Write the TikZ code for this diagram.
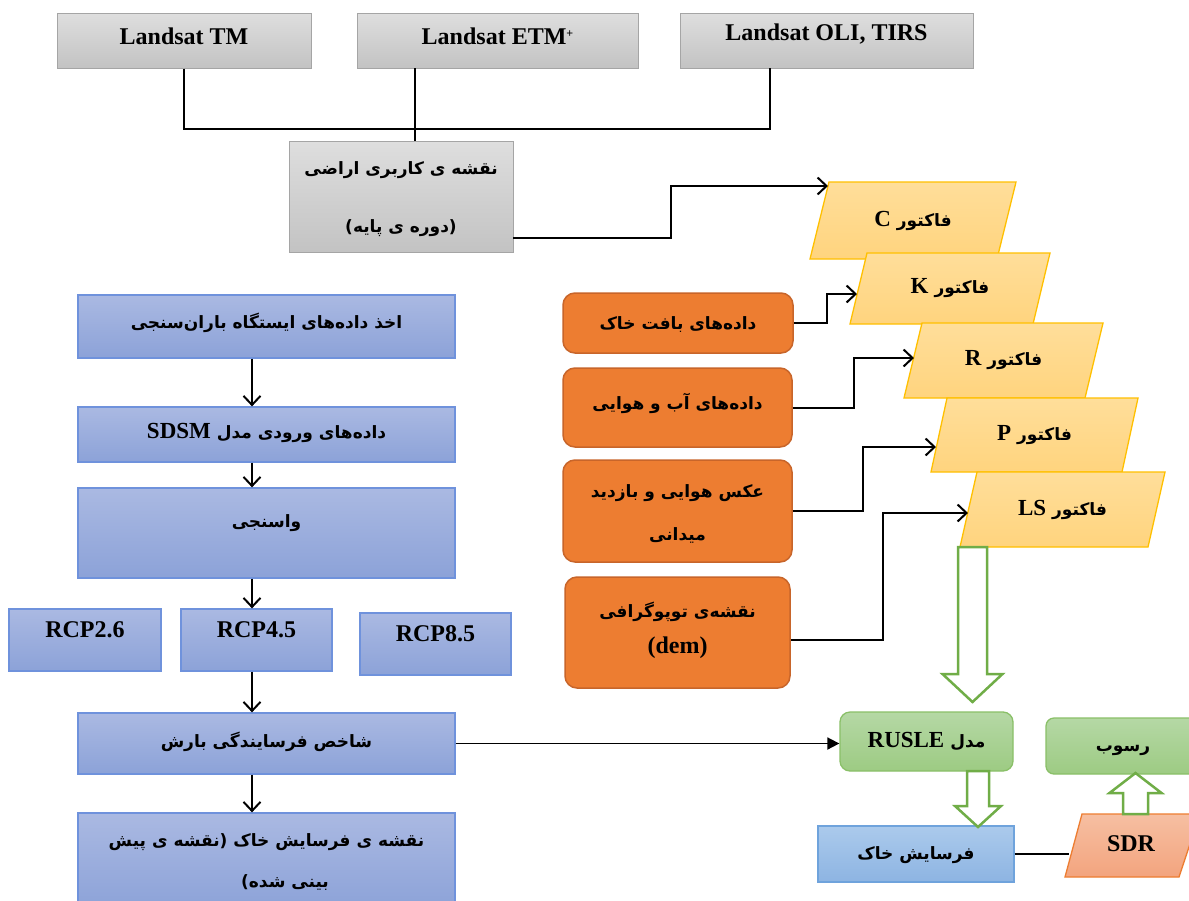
\documentclass[tikz,border=0pt]{standalone}
\usepackage{fontspec}
\setmainfont{Liberation Serif}
\newfontfamily\fa[Script=Arabic]{DejaVu Sans}
\TeXXeTstate=1
\usetikzlibrary{arrows.meta,calc}
\definecolor{gtop}{HTML}{DEDEDE}
\definecolor{gbot}{HTML}{C3C3C3}
\definecolor{gdraw}{HTML}{A5A5A5}
\definecolor{btop}{HTML}{AAB9E2}
\definecolor{bbot}{HTML}{8CA2D8}
\definecolor{bdraw}{HTML}{6F92DC}
\definecolor{ofill}{HTML}{ED7D31}
\definecolor{odraw}{HTML}{C8652A}
\definecolor{ytop}{HTML}{FFDE9A}
\definecolor{ybot}{HTML}{FFD47E}
\definecolor{ydraw}{HTML}{FFC000}
\definecolor{grtop}{HTML}{B5D8A5}
\definecolor{grbot}{HTML}{9DCB83}
\definecolor{grdraw}{HTML}{8AC068}
\definecolor{garr}{HTML}{70AD47}
\definecolor{ltop}{HTML}{ABCAEC}
\definecolor{lbot}{HTML}{8DB4E2}
\definecolor{ldraw}{HTML}{6FA3DC}
\definecolor{stop}{HTML}{F6BFA2}
\definecolor{sbot}{HTML}{F3A47E}
\definecolor{sdraw}{HTML}{ED7D31}
\newcommand\LatinB[1]{{\rmfamily\bfseries\fontsize{23}{26}\selectfont\beginL #1\endL}}
\newcommand\blockarrow[6]{%
  \draw[harr] ({#1-#5},#2) -- ({#1-#5},#3) -- ({#1-#6},#3) -- (#1,#4) -- ({#1+#6},#3) -- ({#1+#5},#3) -- ({#1+#5},#2) -- cycle;}
\newcommand\facpoly[7]{% name, top y, bottom y, TL x, BL x, width, letter
  \path[fac] (#4,#2) -- ({#4+#6},#2) -- ({#5+#6},#3) -- (#5,#3) -- cycle;
  \node[per] (#1) at ({(#4+#5+#6)/2},{(#2+#3)/2}) {\beginR فاکتور \LatinB{#7}\endR};}
\tikzset{
  conn/.style={line width=2pt,black},
  arr/.style={conn,-{Straight Barb[length=9pt,width=17pt]}},
  tarr/.style={line width=1.8pt,black,-{Triangle[length=12pt,width=12pt]}},
  thinline/.style={line width=1.2pt,black},
  lat/.style={font=\rmfamily\bfseries\fontsize{24}{27}\selectfont,inner sep=0pt},
  per/.style={font=\fa\bfseries\fontsize{17}{21}\selectfont,inner sep=0pt},
  gbox/.style={draw=gdraw,line width=1pt,top color=gtop,bottom color=gbot,inner sep=0pt},
  bbox/.style={draw=bdraw,line width=1.3pt,top color=btop,bottom color=bbot,inner sep=0pt},
  obox/.style={draw=odraw,line width=1.5pt,fill=ofill,rounded corners=12pt,inner sep=0pt},
  fac/.style={draw=ydraw,line width=1.3pt,top color=ytop,bottom color=ybot},
  grbox/.style={draw=grdraw,line width=1.3pt,top color=grtop,bottom color=grbot,rounded corners=10pt,inner sep=0pt},
  lbox/.style={draw=ldraw,line width=1.3pt,top color=ltop,bottom color=lbot,inner sep=0pt},
  sdrp/.style={draw=sdraw,line width=1.3pt,top color=stop,bottom color=sbot},
  harr/.style={draw=garr,line width=2.5pt,fill=white,line join=miter},
}
\begin{document}
\begin{tikzpicture}[x=1pt,y=-1pt]
\useasboundingbox[fill=white] (0,0) rectangle (1189,900);
% ---- top grey boxes
\node[gbox,minimum width=254pt,minimum height=55pt] (tm) at (184,40.5) {};
\node[gbox,minimum width=281pt,minimum height=55pt] (etm) at (497.5,40.5) {};
\node[gbox,minimum width=293pt,minimum height=55pt] (oli) at (826.5,40.5) {};
\node[lat] (tmt) at (184,36) {Landsat TM};
\node[lat] (etmt) at (497.5,36) {Landsat ETM\raisebox{7pt}{\fontsize{12}{12}\selectfont +}};
\node[lat] (olit) at (826.5,34) {Landsat OLI, TIRS};
\node[gbox,minimum width=224pt,minimum height=111pt] (lu) at (401,196.5) {};
\node[per] (lu1) at (401,170) {\beginR نقشه ی کاربری اراضی\endR};
\node[per] (lu2) at (401,228) {\beginR (دوره ی پایه)\endR};
\coordinate (etmo) at (415,68);
\coordinate (olio) at (770,68);
\coordinate (jn) at (0,129);
\draw[conn] (tm.south) -- (tm.south |- jn) -- (olio |- jn) -- (olio);
\draw[conn] (etmo) -- (etmo |- lu.north);
% ---- factor parallelograms
\facpoly{fC}{182}{259}{829}{810}{187}{C}
\facpoly{fK}{253}{324}{867}{850}{183}{K}
\facpoly{fR}{323}{398}{922}{904}{181}{R}
\facpoly{fP}{398}{472}{947}{931}{191}{P}
\facpoly{fLS}{472}{547}{977}{960}{188}{LS}
\coordinate (Cin) at (828,186);
\coordinate (Kin) at (857,294);
\coordinate (Rin) at (914,358);
\coordinate (Pin) at (936,447);
\coordinate (LSin) at (968,513);
\coordinate (luo) at (513,238);
\draw[arr] (luo) -- ++(158,0) |- (Cin);
% ---- orange boxes
\node[obox,minimum width=230pt,minimum height=60pt] (soil) at (678,323) {};
\node[per] (soilt) at (678,325) {\beginR داده‌های بافت خاک\endR};
\node[obox,minimum width=229pt,minimum height=79pt] (clim) at (677.5,407.5) {};
\node[per] (climt) at (677.5,403) {\beginR داده‌های آب و هوایی\endR};
\node[obox,minimum width=229pt,minimum height=102pt] (aer) at (677.5,511) {};
\node[per] (aer1) at (677.5,493) {\beginR عکس هوایی و بازدید\endR};
\node[per] (aer2) at (677.5,535) {\beginR میدانی\endR};
\node[obox,minimum width=225pt,minimum height=111pt] (topo) at (677.5,632.5) {};
\node[per] (topo1) at (677.5,612) {\beginR نقشه‌ی توپوگرافی\endR};
\node[lat] (topo2) at (677.5,648) {(dem)};
\draw[arr] (soil.east) -- ++(33,0) |- (Kin);
\draw[arr] (clim.east) -- ++(61,0) |- (Rin);
\draw[arr] (aer.east) -- ++(70,0) |- (Pin);
\draw[arr] ([yshift=-7.5pt]topo.east) -- ++(92,0) |- (LSin);
% ---- left column
\coordinate (ax) at (252,0);
\node[bbox,minimum width=377pt,minimum height=63pt] (b1) at (266.5,326.5) {};
\node[per] (b1t) at (266.5,323) {\beginR اخذ داده‌های ایستگاه باران‌سنجی\endR};
\node[bbox,minimum width=377pt,minimum height=55pt] (b2) at (266.5,434.5) {};
\node[per] (b2t) at (266.5,433) {\beginR داده‌های ورودی مدل \LatinB{SDSM}\endR};
\node[bbox,minimum width=377pt,minimum height=90pt] (b3) at (266.5,533) {};
\node[per] (b3t) at (266.5,523) {\beginR واسنجی\endR};
\node[bbox,minimum width=152pt,minimum height=62pt] (r26) at (85,640) {};
\node[lat] (r26t) at (85,630) {RCP2.6};
\node[bbox,minimum width=151pt,minimum height=62pt] (r45) at (256.5,640) {};
\node[lat] (r45t) at (256.5,630) {RCP4.5};
\node[bbox,minimum width=151pt,minimum height=62pt] (r85) at (435.5,644) {};
\node[lat] (r85t) at (435.5,634) {RCP8.5};
\node[bbox,minimum width=377pt,minimum height=61pt] (b4) at (266.5,743.5) {};
\node[per] (b4t) at (266.5,742) {\beginR شاخص فرسایندگی بارش\endR};
\node[bbox,minimum width=377pt,minimum height=97pt] (b5) at (266.5,861.5) {};
\node[per] (b5t1) at (266.5,842) {\beginR نقشه ی فرسایش خاک (نقشه ی پیش\endR};
\node[per] (b5t2) at (285,883) {\beginR بینی شده)\endR};
\draw[arr] (b1.south -| ax) -- (b2.north -| ax);
\draw[arr] (b2.south -| ax) -- (b3.north -| ax);
\draw[arr] (b3.south -| ax) -- (r45.north -| ax);
\draw[arr] (r45.south -| ax) -- (b4.north -| ax);
\draw[arr] (b4.south -| ax) -- (b5.north -| ax);
% ---- bottom right
\node[grbox,minimum width=173pt,minimum height=59pt] (rusle) at (926.5,741.5) {};
\node[per] (ruslet) at (926.5,741) {\beginR مدل \LatinB{RUSLE}\endR};
\node[grbox,rounded corners=8pt,minimum width=154pt,minimum height=56pt] (rusob) at (1123,746) {};
\node[per] (rusobt) at (1123,750) {\beginR رسوب\endR};
\node[lbox,minimum width=196pt,minimum height=56pt] (eros) at (916,854) {};
\node[per] (erost) at (916,855) {\beginR فرسایش خاک\endR};
\path[sdrp] (1082,814) -- (1200,814) -- (1179,877) -- (1065,877) -- cycle;
\node[lat] (sdr) at (1131,844) {SDR};
\coordinate (SDRin) at (1069,856);
\draw[tarr] (b4.east) -- (b4.east -| rusle.west);
\draw[thinline] (eros.east) -- (eros.east -| SDRin);
\blockarrow{972.5}{547}{674}{702}{14.5}{30}
\blockarrow{978}{771}{806}{827}{11}{23}
\blockarrow{1135.5}{814}{793}{773}{12.5}{26}
\end{tikzpicture}
\end{document}
